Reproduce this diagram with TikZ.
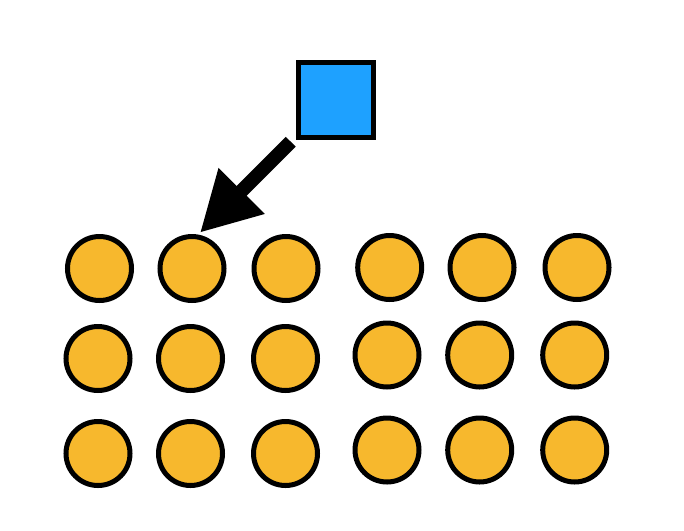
\documentclass[tikz,border=0pt]{standalone}
\usetikzlibrary{arrows.meta}
\definecolor{sqblue}{RGB}{30,161,255}
\definecolor{dotorange}{RGB}{247,184,45}
\tikzset{
  dot/.style={circle,draw=black,line width=5pt,fill=dotorange,minimum size=64pt,inner sep=0pt},
  sqbox/.style={rectangle,draw=black,line width=5pt,fill=sqblue,minimum size=75pt,inner sep=0pt},
  bigarrow/.style={line width=14pt,-{Triangle[length=59pt,width=61pt]}}
}
\begin{document}
\begin{tikzpicture}[x=1pt,y=-1pt]
\useasboundingbox (0,0) rectangle (684,530);
\node[sqbox] (sq) at (336,99.5) {};
% left group
\node[dot] (a11) at (99.5,268.5) {};
\node[dot] (a12) at (192,268.5) {};
\node[dot] (a13) at (286,268.5) {};
\node[dot] (a21) at (98,358.5) {};
\node[dot] (a22) at (190.5,358.5) {};
\node[dot] (a23) at (285.5,358.5) {};
\node[dot] (a31) at (98,453.5) {};
\node[dot] (a32) at (190.5,453.5) {};
\node[dot] (a33) at (285.5,453.5) {};
% right group
\node[dot] (b11) at (389.7,267.5) {};
\node[dot] (b12) at (482,267.5) {};
\node[dot] (b13) at (577,267.5) {};
\node[dot] (b21) at (387,355) {};
\node[dot] (b22) at (479.7,355) {};
\node[dot] (b23) at (574.7,355) {};
\node[dot] (b31) at (387,450) {};
\node[dot] (b32) at (479.7,450) {};
\node[dot] (b33) at (574.7,450) {};
% arrow
\coordinate (as) at (290.7,141.7);
\coordinate (ae) at (200,232.7);
\draw[bigarrow] (as) -- (ae);
\end{tikzpicture}
\end{document}
